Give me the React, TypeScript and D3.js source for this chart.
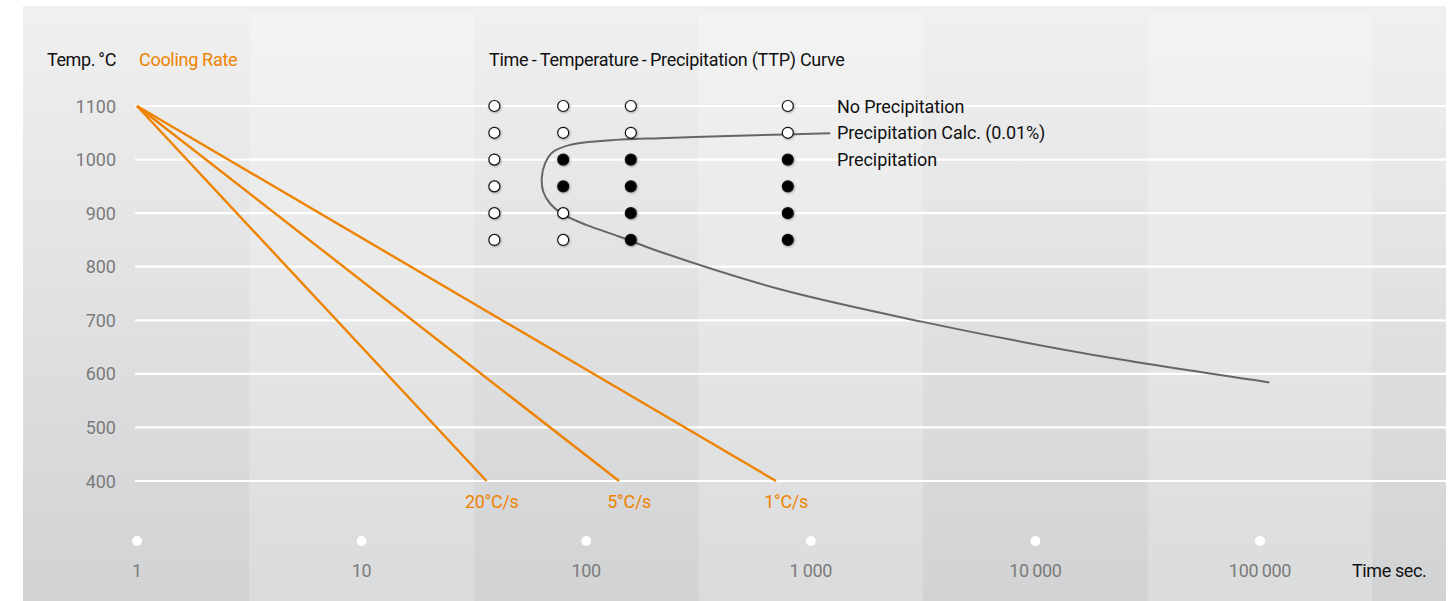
import React, { useEffect } from 'react';
import * as d3 from 'd3';

const W = 1456;
const H = 601;

// axis ticks
const tempTicks = [1100, 1000, 900, 800, 700, 600, 500, 400];
const timeTicks = [1, 10, 100, 1000, 10000, 100000];
const timeTickLabels = ['1', '10', '100', '1\u2009000', '10\u2009000', '100\u2009000'];

// cooling rate lines: start (1 s, 1100 °C) -> end at 400 °C
const coolingLabels = ['20°C/s', '5°C/s', '1°C/s'];
const coolingEndTime = [36, 140, 700];
const coolingStart = { time: 1, temp: 1100 };
const coolingEndTemp = 400;

// TTP test points
const sampleTimes = [39, 79, 158, 790];
const sampleTemps = [1100, 1050, 1000, 950, 900, 850];
// 1 = precipitation found, 0 = none (rows follow sampleTemps, cols follow sampleTimes)
const sampleState = [
  [0, 0, 0, 0],
  [0, 0, 0, 0],
  [0, 1, 1, 1],
  [0, 1, 1, 1],
  [0, 0, 1, 1],
  [0, 0, 1, 1],
];

// precipitation calc curve (0.01%)
const ttpTime = [1220, 770, 430, 213, 120, 84, 71, 65.6, 63.4, 64.4, 69, 78.6, 100, 141, 213, 730, 3160, 7940, 22200, 110000];
const ttpTemp = [1049, 1047, 1044, 1040, 1035, 1027, 1014, 993, 965, 940, 918, 898, 878, 856, 828, 758, 697, 663, 629, 584];

const legendLabels = ['No Precipitation', 'Precipitation Calc. (0.01%)', 'Precipitation'];

const FONT = 'Roboto, "Liberation Sans", sans-serif';
const ORANGE = '#ef8300';

export default function App() {
  useEffect(() => {
    document.body.style.margin = '0';
  }, []);

  const x = d3.scaleLog().domain([1, 100000]).range([137, 1260]);
  const y = d3.scaleLinear().domain([400, 1100]).range([481, 106]);

  const panel = { x0: 23, x1: 1446, y0: 6, y1: 601 };

  // alternating bands centred on each decade
  const bandEdges = d3.range(-0.5, 6, 1).map((e) => Math.pow(10, e));
  const bands = bandEdges.slice(0, -1).map((a, i) => {
    const xa = Math.max(panel.x0, x(a));
    const xb = Math.min(panel.x1, x(bandEdges[i + 1]));
    return { xa, xb, light: i % 2 === 1 };
  });

  const ttpLine = d3
    .line<number>()
    .x((_, i) => x(ttpTime[i]))
    .y((_, i) => y(ttpTemp[i]))
    .curve(d3.curveCatmullRom.alpha(0.5));

  const legendY = [1100, 1050, 1000];

  return (
    <svg width={W} height={H} style={{ display: 'block', fontFamily: FONT }}>
      <defs>
        <linearGradient id="bgDark" x1="0" y1="0" x2="0" y2="1">
          <stop offset="0" stopColor="#f0f0f0" />
          <stop offset="1" stopColor="#d1d2d4" />
        </linearGradient>
        <linearGradient id="bgLight" x1="0" y1="0" x2="0" y2="1">
          <stop offset="0" stopColor="#f3f3f3" />
          <stop offset="1" stopColor="#dadbdc" />
        </linearGradient>
        <filter id="dotShadow" x="-50%" y="-50%" width="200%" height="200%">
          <feDropShadow dx="0.8" dy="0.8" stdDeviation="0.8" floodColor="#000" floodOpacity="0.35" />
        </filter>
      </defs>

      <rect x={panel.x0} y={panel.y0} width={panel.x1 - panel.x0} height={panel.y1 - panel.y0} fill="url(#bgDark)" />
      {bands
        .filter((b) => b.light)
        .map((b, i) => (
          <rect key={i} x={b.xa} y={14} width={b.xb - b.xa} height={panel.y1 - 14} fill="url(#bgLight)" />
        ))}

      {/* grid */}
      {tempTicks.map((t) => (
        <line key={t} x1={135} x2={panel.x1} y1={y(t)} y2={y(t)} stroke="#fff" strokeWidth={2.2} />
      ))}

      {/* y labels */}
      {tempTicks.map((t) => (
        <text key={t} x={116} y={y(t) + 6.5} textAnchor="end" fontSize={18} fill="#7b7b7b">
          {t}
        </text>
      ))}
      <text x={47} y={66} fontSize={18} fill="#111" letterSpacing={-0.4}>
        Temp.&#x2009;°C
      </text>
      <text x={139} y={66} fontSize={18} fill={ORANGE} letterSpacing={-0.3}>
        Cooling Rate
      </text>
      <text x={489} y={66} fontSize={18} fill="#111" letterSpacing={-0.28}>
        Time{'\u2009-\u2009'}Temperature{'\u2009-\u2009'}Precipitation (TTP) Curve
      </text>

      {/* cooling lines */}
      {coolingEndTime.map((t, i) => (
        <g key={i}>
          <line
            x1={x(coolingStart.time)}
            y1={y(coolingStart.temp)}
            x2={x(t)}
            y2={y(coolingEndTemp)}
            stroke={ORANGE}
            strokeWidth={2.4}
          />
          <text x={x(t) + 32} y={508} textAnchor="end" fontSize={18} fill={ORANGE} letterSpacing={-0.3}>
            {coolingLabels[i]}
          </text>
        </g>
      ))}

      {/* TTP curve */}
      <path d={ttpLine(ttpTime.map((_, i) => i)) || ''} fill="none" stroke="#666" strokeWidth={2} />

      {/* sample points */}
      {sampleTemps.map((temp, r) =>
        sampleTimes.map((time, c) => (
          <circle
            key={`${r}-${c}`}
            cx={x(time)}
            cy={y(temp)}
            r={5.5}
            fill={sampleState[r][c] ? '#000' : '#fff'}
            stroke="#111"
            strokeWidth={1.2}
            filter="url(#dotShadow)"
          />
        ))
      )}

      {/* legend labels */}
      {legendLabels.map((l, i) => (
        <text key={l} x={837} y={y(legendY[i]) + 6.5} fontSize={18} fill="#111" letterSpacing={-0.1}>
          {l}
        </text>
      ))}

      {/* x axis */}
      {timeTicks.map((t, i) => (
        <g key={t}>
          <circle cx={x(t)} cy={541} r={5} fill="#fff" />
          <text x={x(t)} y={577} textAnchor="middle" fontSize={18} fill="#7b7b7b" letterSpacing={-0.3}>
            {timeTickLabels[i]}
          </text>
        </g>
      ))}
      <text x={1352} y={577} fontSize={18} fill="#111" letterSpacing={-0.4}>
        Time sec.
      </text>
    </svg>
  );
}
